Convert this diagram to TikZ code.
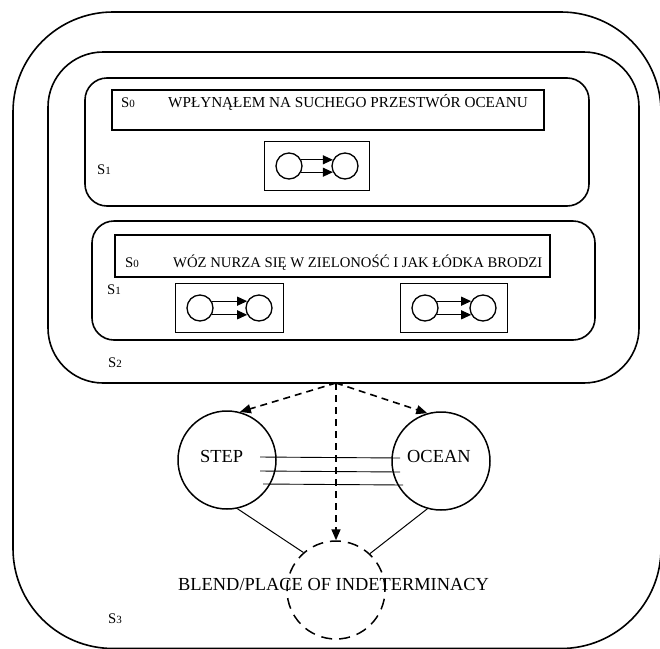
\documentclass[tikz,border=0pt]{standalone}
\usepackage{fontspec}
\setmainfont{Liberation Serif}
\usetikzlibrary{arrows.meta,fit}
\newcommand{\slab}[1]{S{\fontsize{11}{12}\selectfont #1}}

\begin{document}
\begin{tikzpicture}[x = 1pt, y = -1pt,
        region/.style = {draw, line width = 1.6pt, inner sep = 0pt},
        txt/.style = {anchor = base west, inner sep = 0pt, font = \fontsize{14.7}{16}\selectfont},
        bigtxt/.style = {anchor = base west, inner sep = 0pt, font = \fontsize{18.4}{20}\selectfont},
        dot/.style = {circle, draw, line width = 1.3pt, minimum size = 26pt, inner sep = 0pt},
        pairbox/.style = {draw, line width = 1.3pt, inner sep = 11pt},
        link/.style = {line width = 1pt, -{Triangle[length = 10pt, width = 9pt]}},
        space/.style = {circle, draw, line width = 1.5pt, minimum size = 98pt, inner sep = 0pt},
        proj/.style = {line width = 1.6pt, dash pattern = on 7pt off 5pt, -{Triangle[length = 11pt, width = 9pt]}}]
        \useasboundingbox (0, 0) rectangle (660, 648);
        \clip (0, 0) rectangle (660, 648);
        \node[region, rounded corners = 100pt, minimum width = 648pt, minimum height = 636.5pt] (s3) at (337, 330.25) {};
        \node[region, rounded corners = 55pt, minimum width = 591pt, minimum height = 331pt] (s2) at (343.5, 217.5) {};
        \node[region, rounded corners = 22pt, minimum width = 504pt, minimum height = 128pt] (s1a) at (337, 142) {};
        \node[region, rounded corners = 22pt, minimum width = 503pt, minimum height = 119pt] (s1b) at (343.5, 280.5) {};
        \node[region, line width = 1.4pt, minimum width = 432pt, minimum height = 40pt] (s0a) at (328, 110) {};
        \node[region, line width = 1.4pt, minimum width = 435pt, minimum height = 42pt] (s0b) at (332.5, 256) {};
        \node[txt] (l0a) at (121, 107) {\slab{0}};
        \node[txt, font = \fontsize{15.2}{16}\selectfont] (t0a) at (168, 107) {WPŁYNĄŁEM NA SUCHEGO PRZESTWÓR OCEANU};
        \node[txt] (l0b) at (125, 267) {\slab{0}};
        \node[txt] (t0b) at (173, 267) {WÓZ NURZA SIĘ W ZIELONOŚĆ I JAK ŁÓDKA BRODZI};
        \node[txt] (l1a) at (97, 174) {\slab{1}};
        \node[txt] (l1b) at (107, 294) {\slab{1}};
        \node[txt] (l2) at (108, 367) {\slab{2}};
        \node[txt] (l3) at (108, 623) {\slab{3}};
        \node[dot] (a1) at (289, 166) {};
        \node[dot] (a2) at (345, 166) {};
        \node[pairbox, fit = (a1) (a2)] (pa) {};
        \draw[link] (a1.27) -- (a2.153);
        \draw[link] (a1.-27) -- (a2.-153);
        \node[dot] (b1) at (200, 308) {};
        \node[dot] (b2) at (259, 308) {};
        \node[pairbox, fit = (b1) (b2)] (pb) {};
        \draw[link] (b1.30) -- (b2.150);
        \draw[link] (b1.-30) -- (b2.-150);
        \node[dot] (c1) at (425, 308) {};
        \node[dot] (c2) at (483, 308) {};
        \node[pairbox, fit = (c1) (c2)] (pc) {};
        \draw[link] (c1.30) -- (c2.150);
        \draw[link] (c1.-30) -- (c2.-150);
        \node[space] (step) at (227, 460) {};
        \node[space] (ocean) at (441, 461) {};
        \node[space, dash pattern = on 11pt off 7pt] (blend) at (336, 590) {};
        \node[bigtxt] (tstep) at (200, 462) {STEP};
        \node[bigtxt] (tocean) at (407, 462) {OCEAN};
        \node[bigtxt] (tblend) at (178, 590) {BLEND/PLACE OF INDETERMINACY};
        \foreach \dy/\sa/\sb in {3/33/-41, -11/33/-41, -24/36/-38}
            \draw[line width = 0.9pt] ([shift = {(\sa pt, \dy pt)}]step.center) -- ([shift = {(\sb pt, \dy pt)}]ocean.center);
        \draw[line width = 1pt] (step.-78) -- (blend.131);
        \draw[line width = 1pt] (ocean.-106) -- (blend.47);
        \coordinate (src) at (336, 383);
        \draw[proj] (src) -- (step.75);
        \draw[proj] (src) -- (ocean.106);
        \draw[proj] (src) -- (blend.north);
    \end{tikzpicture}
\end{document}
